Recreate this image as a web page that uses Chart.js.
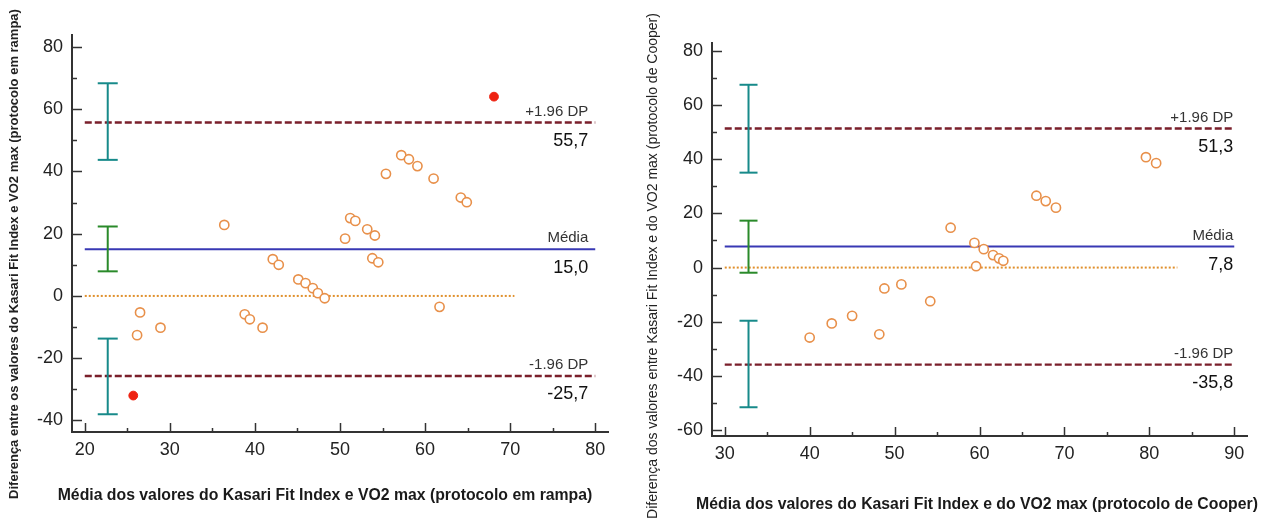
<!DOCTYPE html>
<html>
<head>
<meta charset="utf-8">
<script src="https://cdn.jsdelivr.net/npm/chart.js@4.4.1/dist/chart.umd.min.js"></script>
<style>
  html, body { margin: 0; padding: 0; background: #ffffff; }
  #wrap { position: relative; width: 1274px; height: 524px; overflow: hidden; background:#fff; }
  canvas { position: absolute; left: 0; top: 0; }
</style>
</head>
<body>
<div id="wrap">
  <canvas id="c1" width="1274" height="524"></canvas>
  <canvas id="c2" width="1274" height="524"></canvas>
</div>
<script>
// ---------------- DATA: left chart (protocolo em rampa) ----------------
const leftX = [26.5, 26.15, 28.9, 36.4, 38.8, 39.4, 40.9, 42.1, 42.8, 45.1, 45.95, 46.8, 47.4, 48.2,
               50.6, 51.2, 51.8, 53.2, 53.8, 54.1, 54.5, 55.4, 57.2, 58.1, 59.1, 61.0, 61.7, 64.2, 64.9];
const leftY = [-5.3, -12.6, -10.2, 22.8, -5.9, -7.5, -10.2, 11.8, 10.0, 5.3, 4.1, 2.5, 0.9, -0.75,
               18.4, 25.0, 24.1, 21.4, 12.1, 19.4, 10.8, 39.2, 45.2, 43.9, 41.7, 37.7, -3.5, 31.6, 30.1];
const leftOutX = [25.7, 68.1];
const leftOutY = [-32.0, 64.0];
const leftUpper = 55.7;
const leftMean = 15.0;
const leftLower = -25.7;
const leftUpperCI = [68.3, 43.7];
const leftMeanCI = [22.3, 7.9];
const leftLowerCI = [-13.7, -38.0];
const leftCIx = 22.7;
const leftLineX = [20, 80];
const leftZeroX = [20, 70.5];
const leftXTicks = [20, 30, 40, 50, 60, 70, 80];
const leftYTicks = [-40, -20, 0, 20, 40, 60, 80];
const leftXTitle = 'Média dos valores do Kasari Fit Index e VO2 max (protocolo em rampa)';
const leftYTitle = 'Diferença entre os valores do Kasari Fit Index e VO2 max (protocolo em rampa)';

// ---------------- DATA: right chart (protocolo de Cooper) ----------------
const rightX = [40.0, 42.6, 45.0, 48.2, 48.8, 50.8, 54.2, 56.6, 59.4, 59.6, 60.5, 61.6, 62.3, 62.8,
                66.7, 67.8, 69.0, 79.6, 80.8];
const rightY = [-25.8, -20.6, -17.8, -24.6, -7.7, -6.2, -12.4, 14.7, 9.1, 0.5, 6.8, 4.6, 3.4, 2.5,
                26.5, 24.5, 22.1, 40.7, 38.5];
const rightUpper = 51.3;
const rightMean = 7.8;
const rightLower = -35.8;
const rightUpperCI = [67.4, 35.0];
const rightMeanCI = [17.3, -1.9];
const rightLowerCI = [-19.6, -51.5];
const rightCIx = 32.8;
const rightLineX = [30, 90];
const rightZeroX = [30, 83.3];
const rightXTicks = [30, 40, 50, 60, 70, 80, 90];
const rightYTicks = [-60, -40, -20, 0, 20, 40, 60, 80];
const rightXTitle = 'Média dos valores do Kasari Fit Index e do VO2 max (protocolo de Cooper)';
const rightYTitle = 'Diferença dos valores entre Kasari Fit Index e do VO2 max (protocolo de Cooper)';

const limitLabels = ['+1.96 DP', 'Média', '-1.96 DP'];

// ---------------- styles ----------------
const FONT = "'Liberation Sans', Arial, sans-serif";
const C_PT = '#e8904a';
const C_RED = '#ee2211';
const C_DASH = '#7a1f2b';
const C_MEAN = '#3838b4';
const C_ZERO = '#e0902c';
const C_TEAL = '#178a8a';
const C_GREEN = '#2a8a2a';
const C_AXIS = '#333333';

function pts(xs, ys) { return xs.map((x, i) => ({ x: x, y: ys[i] })); }
function hline(xr, y) { return [{ x: xr[0], y: y }, { x: xr[1], y: y }]; }
function vbar(x, r) { return [{ x: x, y: r[0] }, { x: x, y: r[1] }]; }
function fmt(v) { return v.toFixed(1).replace('.', ','); }

function buildChart(id, cfg) {
  const datasets = [
    { data: pts(cfg.xs, cfg.ys), pointStyle: 'circle', pointRadius: 4.6, pointBorderWidth: 1.6,
      pointBorderColor: C_PT, pointBackgroundColor: '#ffffff', showLine: false },
  ];
  if (cfg.outX) {
    datasets.push({ data: pts(cfg.outX, cfg.outY), pointStyle: 'circle', pointRadius: 4.4, pointBorderWidth: 1,
      pointBorderColor: C_RED, pointBackgroundColor: C_RED, showLine: false });
  }
  const ciStyle = (color) => ({ showLine: true, borderColor: color, borderWidth: 2, pointStyle: 'line',
      pointRadius: cfg.capR, pointBorderWidth: 2, pointBorderColor: color, pointBackgroundColor: color });
  datasets.push(Object.assign({ data: vbar(cfg.ciX, cfg.upperCI) }, ciStyle(C_TEAL)));
  datasets.push(Object.assign({ data: vbar(cfg.ciX, cfg.meanCI) }, ciStyle(C_GREEN)));
  datasets.push(Object.assign({ data: vbar(cfg.ciX, cfg.lowerCI) }, ciStyle(C_TEAL)));
  datasets.push({ data: hline(cfg.lineX, cfg.upper), showLine: true, borderColor: C_DASH, borderWidth: 2.4,
      borderDash: [7, 3], pointRadius: 0 });
  datasets.push({ data: hline(cfg.lineX, cfg.mean), showLine: true, borderColor: C_MEAN, borderWidth: 2,
      pointRadius: 0 });
  datasets.push({ data: hline(cfg.lineX, cfg.lower), showLine: true, borderColor: C_DASH, borderWidth: 2.4,
      borderDash: [7, 3], pointRadius: 0 });
  datasets.push({ data: hline(cfg.zeroX, 0), showLine: true, borderColor: C_ZERO, borderWidth: 2,
      borderDash: [2, 2], pointRadius: 0 });

  const deco = {
    id: 'deco' + id,
    afterDraw(chart) {
      const ctx = chart.ctx;
      const xs = chart.scales.x, ys = chart.scales.y;
      const a = chart.chartArea;
      ctx.save();
      ctx.strokeStyle = C_AXIS;
      ctx.lineWidth = 1.5;
      const xt = cfg.xTicks;
      for (let i = 0; i < xt.length; i++) {
        const px = Math.round(xs.getPixelForValue(xt[i])) + 0.5;
        ctx.beginPath(); ctx.moveTo(px, a.bottom); ctx.lineTo(px, a.bottom - 9); ctx.stroke();
        if (i < xt.length - 1) {
          const pm = Math.round(xs.getPixelForValue((xt[i] + xt[i + 1]) / 2)) + 0.5;
          ctx.beginPath(); ctx.moveTo(pm, a.bottom); ctx.lineTo(pm, a.bottom - 4); ctx.stroke();
        }
      }
      const yt = cfg.yTicks;
      for (let i = 0; i < yt.length; i++) {
        const py = Math.round(ys.getPixelForValue(yt[i])) + 0.5;
        ctx.beginPath(); ctx.moveTo(a.left, py); ctx.lineTo(a.left + 10, py); ctx.stroke();
        if (i < yt.length - 1) {
          const pm = Math.round(ys.getPixelForValue((yt[i] + yt[i + 1]) / 2)) + 0.5;
          ctx.beginPath(); ctx.moveTo(a.left, pm); ctx.lineTo(a.left + 5, pm); ctx.stroke();
        }
      }
      const rx = xs.getPixelForValue(cfg.lineX[1]) - cfg.labInset;
      const vals = [cfg.upper, cfg.mean, cfg.lower];
      ctx.textAlign = 'right';
      ctx.textBaseline = 'middle';
      for (let i = 0; i < vals.length; i++) {
        const py = ys.getPixelForValue(vals[i]);
        ctx.fillStyle = '#333';
        ctx.font = '15px ' + FONT;
        ctx.fillText(limitLabels[i], rx, py - 11);
        ctx.fillStyle = '#111';
        ctx.font = '18px ' + FONT;
        ctx.fillText(fmt(vals[i]), rx, py + 18.5);
      }
      ctx.fillStyle = '#1a1a1a';
      ctx.textAlign = 'center';
      ctx.font = 'bold 15.8px ' + FONT;
      ctx.fillText(cfg.xTitle, cfg.xTitlePos[0], cfg.xTitlePos[1]);
      ctx.save();
      ctx.translate(cfg.yTitlePos[0], cfg.yTitlePos[1]);
      ctx.rotate(-Math.PI / 2);
      ctx.font = cfg.yTitleFont;
      ctx.fillStyle = '#222';
      ctx.fillText(cfg.yTitle, 0, 0);
      ctx.restore();
      ctx.restore();
    }
  };

  return new Chart(document.getElementById(id), {
    type: 'scatter',
    data: { datasets: datasets },
    options: {
      responsive: false,
      animation: false,
      devicePixelRatio: 1,
      events: [],
      layout: { padding: { left: cfg.area.left - cfg.yWidth, top: cfg.area.top, right: 1274 - cfg.area.right, bottom: 0 } },
      plugins: { legend: { display: false }, tooltip: { enabled: false }, title: { display: false } },
      scales: {
        x: {
          type: 'linear', min: cfg.xMin, max: cfg.xMax,
          afterBuildTicks: (s) => { s.ticks = cfg.xTicks.map(v => ({ value: v })); },
          afterFit: (s) => { s.height = 524 - cfg.area.bottom; },
          grid: { display: false, drawTicks: false },
          border: { display: true, color: C_AXIS, width: 2 },
          ticks: { color: '#222', padding: 7, maxRotation: 0, autoSkip: false,
                   font: { family: FONT, size: 18 } }
        },
        y: {
          type: 'linear', min: cfg.yMin, max: cfg.yMax,
          afterBuildTicks: (s) => { s.ticks = cfg.yTicks.map(v => ({ value: v })); },
          afterFit: (s) => { s.width = cfg.yWidth; },
          grid: { display: false, drawTicks: false },
          border: { display: true, color: C_AXIS, width: 2 },
          ticks: { color: '#222', padding: 9, autoSkip: false,
                   font: { family: FONT, size: 18 } }
        }
      }
    },
    plugins: [deco]
  });
}

buildChart('c1', {
  xs: leftX, ys: leftY, outX: leftOutX, outY: leftOutY,
  upper: leftUpper, mean: leftMean, lower: leftLower,
  upperCI: leftUpperCI, meanCI: leftMeanCI, lowerCI: leftLowerCI, ciX: leftCIx, capR: 10,
  lineX: leftLineX, zeroX: leftZeroX, xTicks: leftXTicks, yTicks: leftYTicks,
  xMin: 18.5, xMax: 81.5, yMin: -43.7, yMax: 83.8,
  area: { left: 72, top: 35, right: 608, bottom: 432 }, yWidth: 72,
  labInset: 7,
  xTitle: leftXTitle, yTitle: leftYTitle,
  xTitlePos: [325, 496], yTitlePos: [14, 254], yTitleFont: 'bold 13px ' + FONT
});

buildChart('c2', {
  xs: rightX, ys: rightY,
  upper: rightUpper, mean: rightMean, lower: rightLower,
  upperCI: rightUpperCI, meanCI: rightMeanCI, lowerCI: rightLowerCI, ciX: rightCIx, capR: 9,
  lineX: rightLineX, zeroX: rightZeroX, xTicks: rightXTicks, yTicks: rightYTicks,
  xMin: 28.5, xMax: 91.5, yMin: -62.1, yMax: 82.8,
  area: { left: 712, top: 43, right: 1247, bottom: 436 }, yWidth: 75,
  labInset: 1,
  xTitle: rightXTitle, yTitle: rightYTitle,
  xTitlePos: [977, 505], yTitlePos: [653, 266], yTitleFont: '14px ' + FONT
});
</script>
</body>
</html>
